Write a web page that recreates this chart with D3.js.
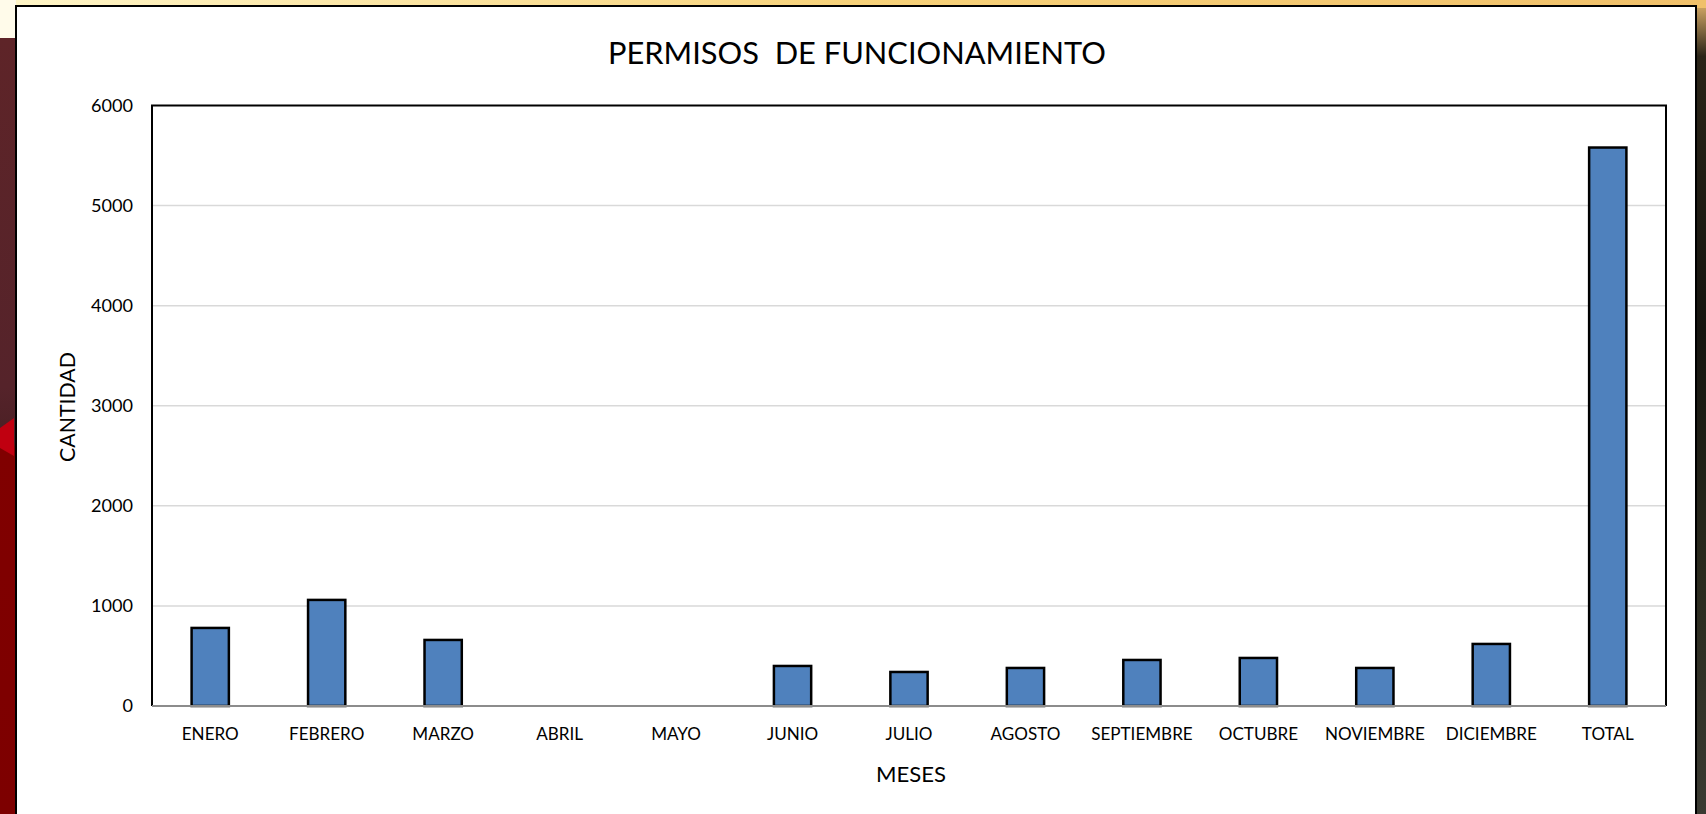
<!DOCTYPE html>
<html>
<head>
<meta charset="utf-8">
<script src="https://cdn.jsdelivr.net/npm/d3@7"></script>
<style>
  html, body { margin: 0; padding: 0; background: #fff; overflow: hidden; }
  svg { display: block; font-family: Lato, "Open Sans", sans-serif; }
</style>
</head>
<body>
<svg id="chart" width="1706" height="814"></svg>
<script>
const months = ["ENERO", "FEBRERO", "MARZO", "ABRIL", "MAYO", "JUNIO", "JULIO", "AGOSTO",
                "SEPTIEMBRE", "OCTUBRE", "NOVIEMBRE", "DICIEMBRE", "TOTAL"];
const cantidad = [780, 1060, 660, 0, 0, 400, 340, 380, 460, 480, 380, 620, 5580];
const yTicks = [0, 1000, 2000, 3000, 4000, 5000, 6000];

const titleText = "PERMISOS  DE FUNCIONAMIENTO";
const xTitle = "MESES";
const yTitle = "CANTIDAD";

const W = 1706, H = 814;
const plot = { left: 152, right: 1666, top: 105.5, bottom: 706 };

const svg = d3.select("#chart");

// slide background around the chart panel
const defs = svg.append("defs");
const topGrad = defs.append("linearGradient").attr("id", "topGrad");
topGrad.append("stop").attr("offset", "0%").attr("stop-color", "#fff6c8");
topGrad.append("stop").attr("offset", "50%").attr("stop-color", "#f7d27a");
topGrad.append("stop").attr("offset", "100%").attr("stop-color", "#f0c06a");
const leftGrad = defs.append("linearGradient").attr("id", "leftGrad")
    .attr("x1", 0).attr("y1", 0).attr("x2", 0).attr("y2", 1);
leftGrad.append("stop").attr("offset", "0%").attr("stop-color", "#5e2428");
leftGrad.append("stop").attr("offset", "45%").attr("stop-color", "#55232a");
leftGrad.append("stop").attr("offset", "52%").attr("stop-color", "#4a2024");
leftGrad.append("stop").attr("offset", "53%").attr("stop-color", "#800000");
leftGrad.append("stop").attr("offset", "100%").attr("stop-color", "#7d0000");
const rightGrad = defs.append("linearGradient").attr("id", "rightGrad")
    .attr("x1", 0).attr("y1", 0).attr("x2", 0).attr("y2", 1);
rightGrad.append("stop").attr("offset", "0%").attr("stop-color", "#c9a060");
rightGrad.append("stop").attr("offset", "6%").attr("stop-color", "#2a2418");
rightGrad.append("stop").attr("offset", "40%").attr("stop-color", "#15140f");
rightGrad.append("stop").attr("offset", "70%").attr("stop-color", "#2a2a1e");
rightGrad.append("stop").attr("offset", "100%").attr("stop-color", "#3a3a32");

svg.append("rect").attr("width", W).attr("height", H).attr("fill", "url(#topGrad)");
svg.append("rect").attr("x", 0).attr("y", 0).attr("width", 16).attr("height", 38).attr("fill", "#fffbea");
svg.append("rect").attr("x", 0).attr("y", 38).attr("width", 16).attr("height", H - 38).attr("fill", "url(#leftGrad)");
svg.append("path").attr("d", "M0,428 L14,418 L14,456 L0,448 Z").attr("fill", "#c00010");
svg.append("rect").attr("x", 1697).attr("y", 8).attr("width", 9).attr("height", H - 8).attr("fill", "url(#rightGrad)");

// white chart panel
svg.append("rect")
    .attr("x", 16).attr("y", 6).attr("width", 1680).attr("height", H + 10)
    .attr("fill", "#fff").attr("stroke", "#000").attr("stroke-width", 2);

const x = d3.scaleBand().domain(months).range([plot.left, plot.right]).paddingInner(0.68).paddingOuter(0.34);
const y = d3.scaleLinear().domain([0, 6000]).range([plot.bottom, plot.top]);

// horizontal gridlines
svg.append("g").selectAll("line")
    .data(yTicks.filter(d => d > 0 && d < 6000)).enter().append("line")
    .attr("x1", plot.left).attr("x2", plot.right)
    .attr("y1", d => y(d)).attr("y2", d => y(d))
    .attr("stroke", "#d9d9d9").attr("stroke-width", 1.5);

// bars
svg.append("g").selectAll("rect")
    .data(cantidad.map((v, i) => ({ mes: months[i], v })).filter(d => d.v > 0))
    .enter().append("rect")
    .attr("x", d => x(d.mes))
    .attr("width", x.bandwidth())
    .attr("y", d => y(d.v))
    .attr("height", d => y(0) - y(d.v))
    .attr("fill", "#4f81bd")
    .attr("stroke", "#000").attr("stroke-width", 2.5);

// plot frame: black left/top/right, grey baseline
svg.append("path")
    .attr("d", `M${plot.left},${plot.bottom} V${plot.top} H${plot.right} V${plot.bottom}`)
    .attr("fill", "none").attr("stroke", "#000").attr("stroke-width", 2);
svg.append("line")
    .attr("x1", plot.left).attr("x2", plot.right)
    .attr("y1", y(0)).attr("y2", y(0))
    .attr("stroke", "#8c8c8c").attr("stroke-width", 2);

// font sizing helper: scale font so a sample string spans the measured width
function fitSize(sample, targetWidth) {
    const t = svg.append("text").attr("font-size", 20).style("white-space", "pre").text(sample);
    const w = t.node().getComputedTextLength();
    t.remove();
    return 20 * targetWidth / w;
}

const tickSize = fitSize("ENERO", 57);
const yTickSize = fitSize("6000", 42);
const titleSize = fitSize(titleText, 498);
const axisTitleSize = fitSize(xTitle, 70);
const yTitleSize = fitSize(yTitle, 110);

// y axis labels
const yAxis = d3.axisLeft(y).tickValues(yTicks).tickSize(0).tickPadding(19).tickFormat(d3.format("d"));
svg.append("g").attr("transform", `translate(${plot.left},0)`).call(yAxis)
    .call(g => g.select(".domain").remove())
    .selectAll("text").attr("font-size", yTickSize).attr("fill", "#000")
    .attr("font-family", "Lato, sans-serif");

// x axis labels
const xAxis = d3.axisBottom(x).tickSize(0).tickPadding(22);
svg.append("g").attr("transform", `translate(0,${plot.bottom})`).call(xAxis)
    .call(g => g.select(".domain").remove())
    .selectAll("text").attr("font-size", tickSize).attr("fill", "#000")
    .attr("font-family", "Lato, sans-serif");

// titles
svg.append("text")
    .attr("x", 857).attr("y", 64)
    .attr("text-anchor", "middle").style("white-space", "pre")
    .attr("font-size", titleSize).attr("fill", "#000")
    .text(titleText);

svg.append("text")
    .attr("x", 911).attr("y", 782)
    .attr("text-anchor", "middle")
    .attr("font-size", axisTitleSize).attr("fill", "#000")
    .text(xTitle);

svg.append("text")
    .attr("transform", "translate(75,407) rotate(-90)")
    .attr("text-anchor", "middle")
    .attr("font-size", yTitleSize).attr("fill", "#000")
    .text(yTitle);
</script>
</body>
</html>
